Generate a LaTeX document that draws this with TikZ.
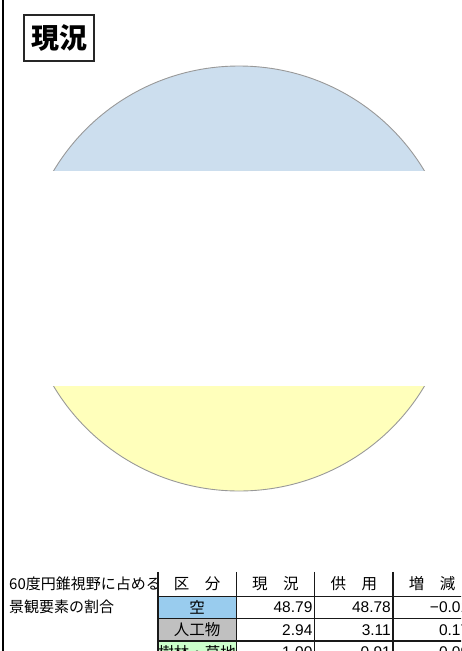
\documentclass[tikz,border=0pt]{standalone}
\usepackage{fontspec}
\setmainfont{Liberation Sans}
\newfontfamily\cjk{Noto Sans CJK JP}
\usepackage{xcolor}
\usepackage{tikz}
\usetikzlibrary{positioning}

\definecolor{skyfill}{HTML}{CCDEEE}
\definecolor{groundfill}{HTML}{FFFFBB}
\definecolor{skycell}{HTML}{99CCEE}
\definecolor{builtcell}{HTML}{C0C0C0}
\definecolor{greencell}{HTML}{CCFFCC}

\begin{document}
\begin{tikzpicture}[
    x=1pt, y=-1pt,
    title/.style={rectangle, draw=black!85, line width=1.2pt, minimum width=70pt, minimum height=46pt, inner sep=0pt, font=\cjk\bfseries\fontsize{28}{30}\selectfont},
    disc/.style={draw=black!40, line width=0.9pt},
    caption/.style={anchor=west, inner sep=0pt, font=\cjk\fontsize{15}{16}\selectfont},
    hd/.style={rectangle, minimum width=78pt, minimum height=24pt, inner sep=0pt, font=\cjk\fontsize{15.5}{16}\selectfont},
    kind/.style={rectangle, minimum width=78pt, minimum height=22pt, inner sep=0pt, font=\cjk\fontsize{15.5}{16}\selectfont},
    num/.style={rectangle, text width=74pt, inner xsep=2pt, inner ysep=0pt, minimum height=22pt, align=right, font=\fontsize{15.5}{16}\selectfont},
    grid/.style={draw=black!90, line width=1.4pt}
]
    \useasboundingbox (0,0) rectangle (461,651);
    \clip (0,0) rectangle (461,651);

    % frame edge on the left
    \draw [line width=2pt] (2.5,0) -- (2.5,651);

    \node [title] (ttl) at (59,38) {現況};

    % sky part of the view cone
    \begin{scope}
        \clip (0,0) rectangle (461,170.5);
        \draw [disc, fill=skyfill] (239,278.5) ellipse [x radius=215pt, y radius=212.5pt];
    \end{scope}
    % ground part of the view cone
    \begin{scope}
        \clip (0,386.7) rectangle (461,651);
        \draw [disc, fill=groundfill] (239,278.5) ellipse [x radius=215pt, y radius=212.5pt];
    \end{scope}

    \node [caption] (cap1) at (9,584) {60度円錐視野に占める};
    \node [caption] (cap2) at (9,607) {景観要素の割合};

    % table
    \node [hd] (hd1) at (197,584) {区　分};
    \node [hd, right=0pt of hd1] (hd2) {現　況};
    \node [hd, right=0pt of hd2] (hd3) {供　用};
    \node [hd, right=0pt of hd3] (hd4) {増　減};

    \node [kind, fill=skycell, below=0pt of hd1] (sky) {空};
    \node [num, right=0pt of sky] (sky2) {48.79};
    \node [num, right=0pt of sky2] (sky3) {48.78};
    \node [num, right=0pt of sky3] (sky4) {−0.01};

    \node [kind, fill=builtcell, below=0pt of sky] (blt) {人工物};
    \node [num, right=0pt of blt] (blt2) {2.94};
    \node [num, right=0pt of blt2] (blt3) {3.11};
    \node [num, right=0pt of blt3] (blt4) {0.17};

    \node [kind, fill=greencell, below=0pt of blt] (grn) {樹林・草地};
    \node [num, right=0pt of grn] (grn2) {1.00};
    \node [num, right=0pt of grn2] (grn3) {0.91};
    \node [num, right=0pt of grn3] (grn4) {−0.09};

    \draw [grid, line width=2pt] (hd1.north west) -- (grn.south west);
    \draw [grid] (hd2.north west) -- (grn2.south west);
    \draw [grid] (hd3.north west) -- (grn3.south west);
    \draw [grid] (hd4.north west) -- (grn4.south west);
    \draw [grid] (hd4.north east) -- (grn4.south east);
    \draw [grid] (hd1.south west) -- (hd4.south east);
    \draw [grid] (sky.south west) -- (sky4.south east);
    \draw [grid] (blt.south west) -- (blt4.south east);
\end{tikzpicture}
\end{document}
